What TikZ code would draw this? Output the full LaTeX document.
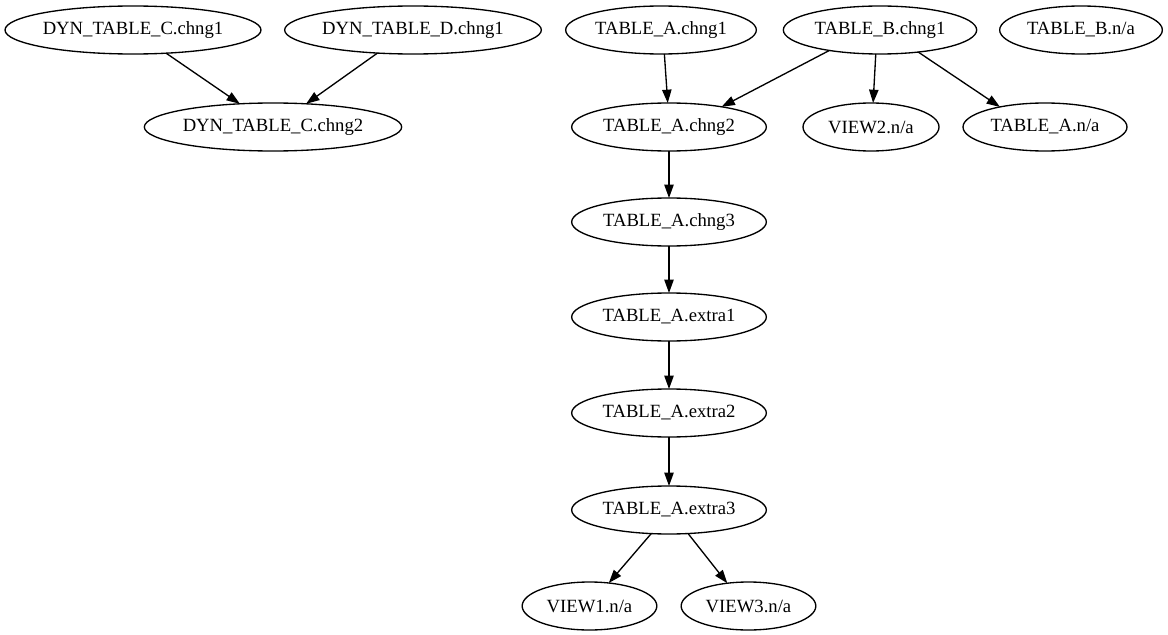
\documentclass[tikz,border=0pt]{standalone}
\usepackage{fontspec}
\setmainfont{Liberation Serif}
\usetikzlibrary{shapes.geometric,arrows.meta}
\begin{document}
\begin{tikzpicture}[x=0.75pt,y=-0.75pt,
  gv/.style={ellipse,draw,line width=1pt,inner sep=0pt,outer sep=0pt,minimum height=36pt,font=\fontsize{14pt}{16pt}\selectfont},
  edge/.style={draw,line width=1pt,-{Triangle[length=10pt,width=7pt]}}]
\useasboundingbox (0,0) rectangle (1168,635);
\node[gv,minimum width=192pt] (c1) at (133,30) {DYN\_TABLE\_C.chng1};
\node[gv,minimum width=192pt] (d1) at (413,30) {DYN\_TABLE\_D.chng1};
\node[gv,minimum width=193pt] (c2) at (273,127) {DYN\_TABLE\_C.chng2};
\node[gv,minimum width=143pt] (a1) at (661,30) {TABLE\_A.chng1};
\node[gv,minimum width=145pt] (b1) at (880,30) {TABLE\_B.chng1};
\node[gv,minimum width=122pt] (bna) at (1081,30) {TABLE\_B.n/a};
\node[gv,minimum width=146pt] (a2) at (669,127) {TABLE\_A.chng2};
\node[gv,minimum width=102pt] (v2) at (871,127) {VIEW2.n/a};
\node[gv,minimum width=123pt] (ana) at (1045,127) {TABLE\_A.n/a};
\node[gv,minimum width=146pt] (a3) at (669,222) {TABLE\_A.chng3};
\node[gv,minimum width=146pt] (e1) at (669,317) {TABLE\_A.extra1};
\node[gv,minimum width=146pt] (e2) at (669,413) {TABLE\_A.extra2};
\node[gv,minimum width=146pt] (e3) at (669,510) {TABLE\_A.extra3};
\node[gv,minimum width=101pt] (v1) at (589.5,606) {VIEW1.n/a};
\node[gv,minimum width=101pt] (v3) at (748.5,606) {VIEW3.n/a};
\path[edge] (c1.-35) -- (c2.145);
\path[edge] (d1.213) -- (c2.35);
\path[edge] (a1.-82) -- (a2.93);
\path[edge] (b1.202) -- (a2.21);
\path[edge] (b1.260) -- (v2.85);
\path[edge] (b1.-30) -- (ana.156);
\path[edge] (a2.south) -- (a3.north);
\path[edge] (a3.south) -- (e1.north);
\path[edge] (e1.south) -- (e2.north);
\path[edge] (e2.south) -- (e3.north);
\path[edge] (e3.-127) -- (v1.50);
\path[edge] (e3.-51) -- (v3.133);
\end{tikzpicture}
\end{document}
